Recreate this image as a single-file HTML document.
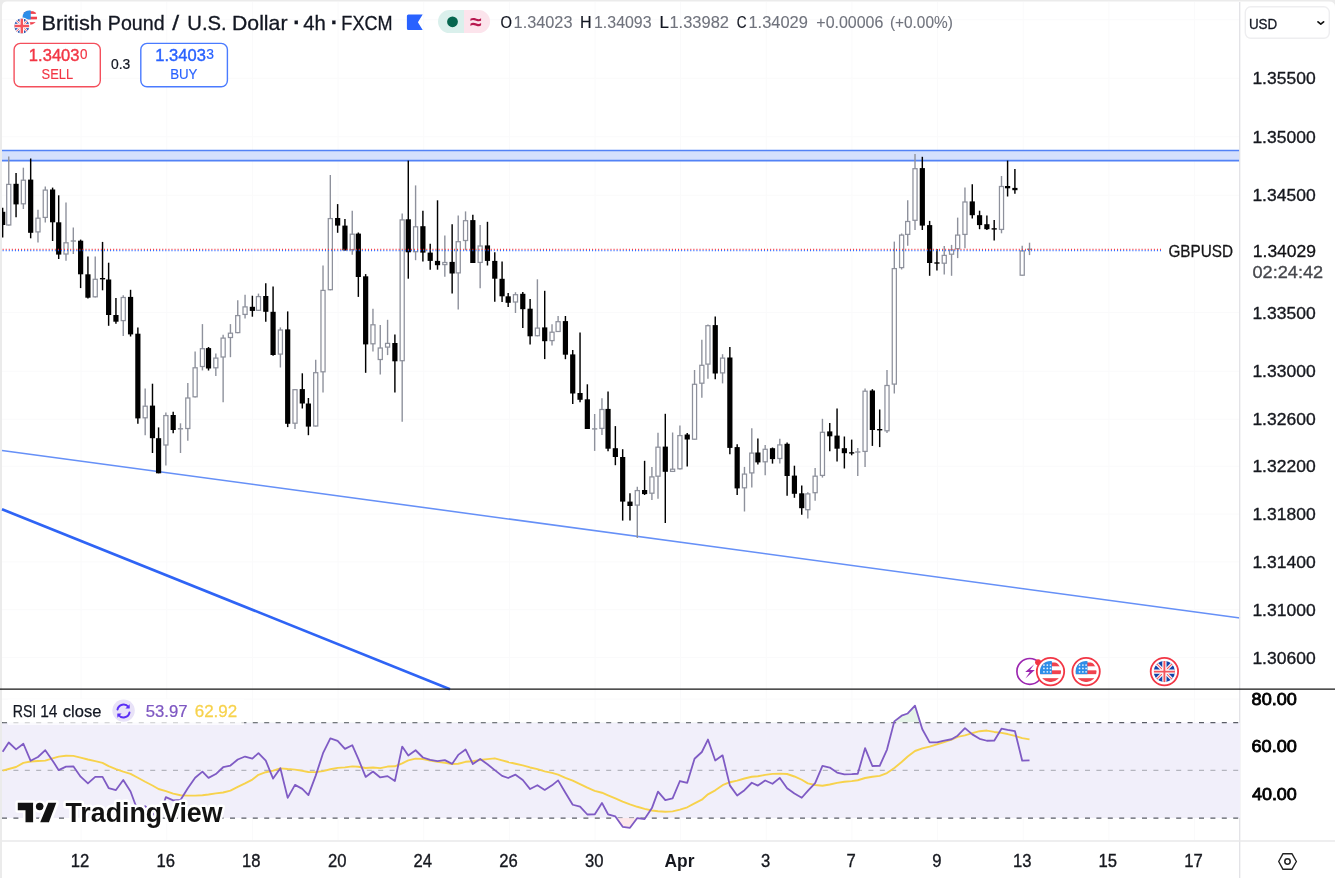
<!DOCTYPE html>
<html lang="en"><head><meta charset="utf-8"><title>GBPUSD chart</title>
<style>
html,body{margin:0;padding:0;background:#ebebeb;}
body{width:1335px;height:878px;overflow:hidden;position:relative;font-family:"Liberation Sans", sans-serif;}
#chart{position:absolute;left:0;top:0;width:1335px;height:878px;display:block;}
svg text{font-family:"Liberation Sans", sans-serif;}
.ax{font-size:17px;fill:#131722;}
.tm{font-size:17px;fill:#131722;text-anchor:middle;}
.rs{font-size:17px;fill:#000;stroke:#000;stroke-width:0.35px;}
</style></head><body>
<svg id="chart" width="1335" height="878" viewBox="0 0 1335 878">
<path d="M2 878V6.5Q2 1.5 7 1.5H1329Q1335 1.5 1335 7V878Z" fill="#ffffff"/>
<g stroke="#fafafb" stroke-width="1" fill="none">
<line x1="81.1" y1="2" x2="81.1" y2="840"/>
<line x1="166.75" y1="2" x2="166.75" y2="840"/>
<line x1="252.4" y1="2" x2="252.4" y2="840"/>
<line x1="338.05" y1="2" x2="338.05" y2="840"/>
<line x1="423.7" y1="2" x2="423.7" y2="840"/>
<line x1="509.35" y1="2" x2="509.35" y2="840"/>
<line x1="595" y1="2" x2="595" y2="840"/>
<line x1="680.65" y1="2" x2="680.65" y2="840"/>
<line x1="766.3" y1="2" x2="766.3" y2="840"/>
<line x1="851.95" y1="2" x2="851.95" y2="840"/>
<line x1="937.6" y1="2" x2="937.6" y2="840"/>
<line x1="1023.25" y1="2" x2="1023.25" y2="840"/>
<line x1="1108.9" y1="2" x2="1108.9" y2="840"/>
<line x1="1194.55" y1="2" x2="1194.55" y2="840"/>
<line x1="2" y1="19.8" x2="1240" y2="19.8"/>
<line x1="2" y1="78.3" x2="1240" y2="78.3"/>
<line x1="2" y1="136.8" x2="1240" y2="136.8"/>
<line x1="2" y1="195.3" x2="1240" y2="195.3"/>
<line x1="2" y1="312.5" x2="1240" y2="312.5"/>
<line x1="2" y1="371.2" x2="1240" y2="371.2"/>
<line x1="2" y1="419.2" x2="1240" y2="419.2"/>
<line x1="2" y1="466.2" x2="1240" y2="466.2"/>
<line x1="2" y1="514" x2="1240" y2="514"/>
<line x1="2" y1="561.9" x2="1240" y2="561.9"/>
<line x1="2" y1="609.7" x2="1240" y2="609.7"/>
<line x1="2" y1="657.6" x2="1240" y2="657.6"/>
<line x1="2" y1="699" x2="1240" y2="699"/>
<line x1="2" y1="746.5" x2="1240" y2="746.5"/>
<line x1="2" y1="794" x2="1240" y2="794"/>
</g>
<rect x="2" y="150.4" width="1238" height="10.2" fill="#d4e0fd"/>
<line x1="2" y1="150.4" x2="1240" y2="150.4" stroke="#5282f6" stroke-width="1.55"/>
<line x1="2" y1="160.6" x2="1240" y2="160.6" stroke="#5282f6" stroke-width="1.55"/>
<line x1="2" y1="450.4" x2="1240" y2="618" stroke="#6690f7" stroke-width="1.55"/>
<line x1="2" y1="509.2" x2="450" y2="689.2" stroke="#2f64f5" stroke-width="2.6"/>
<clipPath id="pl"><rect x="2" y="2" width="1238" height="687"/></clipPath>
<g id="candles" clip-path="url(#pl)">
<line x1="2.66" y1="207.7" x2="2.66" y2="237.5" stroke="#000" stroke-width="1.45"/>
<rect x="0.06" y="211.8" width="5.2" height="13.2" fill="#000"/>
<line x1="8.75" y1="156.5" x2="8.75" y2="225.6" stroke="#8e919c" stroke-width="1.4"/>
<rect x="6.7" y="184.4" width="4.1" height="40.6" fill="#fff" stroke="#8e919c" stroke-width="1.25"/>
<line x1="16.06" y1="173" x2="16.06" y2="217.3" stroke="#000" stroke-width="1.45"/>
<rect x="13.46" y="183.8" width="5.2" height="20.6" fill="#000"/>
<line x1="23.37" y1="167.7" x2="23.37" y2="209" stroke="#8e919c" stroke-width="1.4"/>
<rect x="21.32" y="180.2" width="4.1" height="23.6" fill="#fff" stroke="#8e919c" stroke-width="1.25"/>
<line x1="30.67" y1="158.5" x2="30.67" y2="238.3" stroke="#000" stroke-width="1.45"/>
<rect x="28.07" y="179.6" width="5.2" height="53.2" fill="#000"/>
<line x1="37.98" y1="209.7" x2="37.98" y2="242.4" stroke="#8e919c" stroke-width="1.4"/>
<rect x="35.93" y="218.2" width="4.1" height="13.7" fill="#fff" stroke="#8e919c" stroke-width="1.25"/>
<line x1="45.29" y1="186.6" x2="45.29" y2="222.6" stroke="#8e919c" stroke-width="1.4"/>
<rect x="43.24" y="190.1" width="4.1" height="27.3" fill="#fff" stroke="#8e919c" stroke-width="1.25"/>
<line x1="52.6" y1="187.6" x2="52.6" y2="241" stroke="#000" stroke-width="1.45"/>
<rect x="50" y="189.5" width="5.2" height="32.8" fill="#000"/>
<line x1="58.69" y1="195.3" x2="58.69" y2="259" stroke="#000" stroke-width="1.45"/>
<rect x="56.09" y="222.3" width="5.2" height="32.3" fill="#000"/>
<line x1="66" y1="202.4" x2="66" y2="260.8" stroke="#8e919c" stroke-width="1.4"/>
<rect x="63.95" y="242.8" width="4.1" height="11.2" fill="#fff" stroke="#8e919c" stroke-width="1.25"/>
<line x1="73.31" y1="227.5" x2="73.31" y2="254" stroke="#8e919c" stroke-width="1.4"/>
<line x1="70.71" y1="241" x2="75.91" y2="241" stroke="#8e919c" stroke-width="1.4"/>
<line x1="80.62" y1="239.6" x2="80.62" y2="288.1" stroke="#000" stroke-width="1.45"/>
<rect x="78.02" y="240.7" width="5.2" height="33.6" fill="#000"/>
<line x1="87.93" y1="256.4" x2="87.93" y2="298.5" stroke="#000" stroke-width="1.45"/>
<rect x="85.33" y="274.3" width="5.2" height="23.4" fill="#000"/>
<line x1="95.23" y1="256.4" x2="95.23" y2="297.4" stroke="#8e919c" stroke-width="1.4"/>
<rect x="93.18" y="279.3" width="4.1" height="17.5" fill="#fff" stroke="#8e919c" stroke-width="1.25"/>
<line x1="102.54" y1="241.9" x2="102.54" y2="290.3" stroke="#000" stroke-width="1.45"/>
<rect x="99.94" y="278" width="5.2" height="1.4" fill="#000"/>
<line x1="108.63" y1="262.7" x2="108.63" y2="325.8" stroke="#000" stroke-width="1.45"/>
<rect x="106.03" y="279.5" width="5.2" height="35.5" fill="#000"/>
<line x1="115.94" y1="298" x2="115.94" y2="323.8" stroke="#000" stroke-width="1.45"/>
<rect x="113.34" y="315" width="5.2" height="6.7" fill="#000"/>
<line x1="123.25" y1="295.2" x2="123.25" y2="336" stroke="#8e919c" stroke-width="1.4"/>
<rect x="121.2" y="297.5" width="4.1" height="23.1" fill="#fff" stroke="#8e919c" stroke-width="1.25"/>
<line x1="130.56" y1="289.8" x2="130.56" y2="336.5" stroke="#000" stroke-width="1.45"/>
<rect x="127.96" y="296.9" width="5.2" height="37.5" fill="#000"/>
<line x1="137.87" y1="327.4" x2="137.87" y2="423.8" stroke="#000" stroke-width="1.45"/>
<rect x="135.27" y="333.7" width="5.2" height="84.7" fill="#000"/>
<line x1="145.18" y1="388.6" x2="145.18" y2="435.2" stroke="#8e919c" stroke-width="1.4"/>
<rect x="143.13" y="406.2" width="4.1" height="11.6" fill="#fff" stroke="#8e919c" stroke-width="1.25"/>
<line x1="152.48" y1="383.7" x2="152.48" y2="453" stroke="#000" stroke-width="1.45"/>
<rect x="149.88" y="405.6" width="5.2" height="32.6" fill="#000"/>
<line x1="158.57" y1="427.4" x2="158.57" y2="473.3" stroke="#000" stroke-width="1.45"/>
<rect x="155.97" y="438.2" width="5.2" height="35.1" fill="#000"/>
<line x1="165.88" y1="412.6" x2="165.88" y2="465.4" stroke="#8e919c" stroke-width="1.4"/>
<rect x="163.83" y="415.6" width="4.1" height="29.4" fill="#fff" stroke="#8e919c" stroke-width="1.25"/>
<line x1="173.19" y1="411.8" x2="173.19" y2="433.2" stroke="#000" stroke-width="1.45"/>
<rect x="170.59" y="415" width="5.2" height="15" fill="#000"/>
<line x1="180.5" y1="423.3" x2="180.5" y2="453" stroke="#8e919c" stroke-width="1.4"/>
<line x1="177.9" y1="428.8" x2="183.1" y2="428.8" stroke="#8e919c" stroke-width="1.4"/>
<line x1="187.81" y1="382.9" x2="187.81" y2="440.7" stroke="#8e919c" stroke-width="1.4"/>
<rect x="185.76" y="398" width="4.1" height="30.5" fill="#fff" stroke="#8e919c" stroke-width="1.25"/>
<line x1="195.12" y1="351.5" x2="195.12" y2="397.4" stroke="#8e919c" stroke-width="1.4"/>
<rect x="193.07" y="367.8" width="4.1" height="29" fill="#fff" stroke="#8e919c" stroke-width="1.25"/>
<line x1="202.43" y1="324.1" x2="202.43" y2="370.4" stroke="#8e919c" stroke-width="1.4"/>
<rect x="200.38" y="348.7" width="4.1" height="17.8" fill="#fff" stroke="#8e919c" stroke-width="1.25"/>
<line x1="208.52" y1="347" x2="208.52" y2="370.5" stroke="#000" stroke-width="1.45"/>
<rect x="205.92" y="348.1" width="5.2" height="20.4" fill="#000"/>
<line x1="215.83" y1="353.5" x2="215.83" y2="375.9" stroke="#8e919c" stroke-width="1.4"/>
<rect x="213.78" y="358.1" width="4.1" height="9.7" fill="#fff" stroke="#8e919c" stroke-width="1.25"/>
<line x1="223.13" y1="334.8" x2="223.13" y2="402.2" stroke="#8e919c" stroke-width="1.4"/>
<rect x="221.08" y="338.1" width="4.1" height="18.9" fill="#fff" stroke="#8e919c" stroke-width="1.25"/>
<line x1="230.44" y1="324.1" x2="230.44" y2="357.2" stroke="#8e919c" stroke-width="1.4"/>
<rect x="228.39" y="333.2" width="4.1" height="4.3" fill="#fff" stroke="#8e919c" stroke-width="1.25"/>
<line x1="237.75" y1="300.2" x2="237.75" y2="333.2" stroke="#8e919c" stroke-width="1.4"/>
<rect x="235.7" y="315.6" width="4.1" height="17" fill="#fff" stroke="#8e919c" stroke-width="1.25"/>
<line x1="245.06" y1="294.7" x2="245.06" y2="318.4" stroke="#8e919c" stroke-width="1.4"/>
<rect x="243.01" y="306.9" width="4.1" height="7.5" fill="#fff" stroke="#8e919c" stroke-width="1.25"/>
<line x1="252.37" y1="295.7" x2="252.37" y2="316.7" stroke="#000" stroke-width="1.45"/>
<rect x="249.77" y="306.8" width="5.2" height="4.1" fill="#000"/>
<line x1="258.46" y1="293.6" x2="258.46" y2="310.9" stroke="#8e919c" stroke-width="1.4"/>
<rect x="256.41" y="296.6" width="4.1" height="13.7" fill="#fff" stroke="#8e919c" stroke-width="1.25"/>
<line x1="265.77" y1="283.2" x2="265.77" y2="321.7" stroke="#000" stroke-width="1.45"/>
<rect x="263.17" y="296" width="5.2" height="15.8" fill="#000"/>
<line x1="273.08" y1="286.5" x2="273.08" y2="355.8" stroke="#000" stroke-width="1.45"/>
<rect x="270.48" y="311.8" width="5.2" height="43.2" fill="#000"/>
<line x1="280.38" y1="327.4" x2="280.38" y2="367.5" stroke="#8e919c" stroke-width="1.4"/>
<rect x="278.33" y="330" width="4.1" height="24.1" fill="#fff" stroke="#8e919c" stroke-width="1.25"/>
<line x1="287.69" y1="311.4" x2="287.69" y2="427.1" stroke="#000" stroke-width="1.45"/>
<rect x="285.09" y="329.4" width="5.2" height="94.4" fill="#000"/>
<line x1="295" y1="389.1" x2="295" y2="429.1" stroke="#8e919c" stroke-width="1.4"/>
<rect x="292.95" y="389.7" width="4.1" height="33.5" fill="#fff" stroke="#8e919c" stroke-width="1.25"/>
<line x1="302.31" y1="373.3" x2="302.31" y2="408.5" stroke="#000" stroke-width="1.45"/>
<rect x="299.71" y="389.1" width="5.2" height="14.4" fill="#000"/>
<line x1="308.4" y1="398" x2="308.4" y2="435.2" stroke="#000" stroke-width="1.45"/>
<rect x="305.8" y="403.5" width="5.2" height="23.1" fill="#000"/>
<line x1="315.71" y1="359.7" x2="315.71" y2="426.6" stroke="#8e919c" stroke-width="1.4"/>
<rect x="313.66" y="372.7" width="4.1" height="53.3" fill="#fff" stroke="#8e919c" stroke-width="1.25"/>
<line x1="323.02" y1="265.5" x2="323.02" y2="392.4" stroke="#8e919c" stroke-width="1.4"/>
<rect x="320.97" y="290.4" width="4.1" height="81.4" fill="#fff" stroke="#8e919c" stroke-width="1.25"/>
<line x1="330.33" y1="175" x2="330.33" y2="290.3" stroke="#8e919c" stroke-width="1.4"/>
<rect x="328.28" y="218.6" width="4.1" height="71.1" fill="#fff" stroke="#8e919c" stroke-width="1.25"/>
<line x1="337.64" y1="204.1" x2="337.64" y2="232.8" stroke="#000" stroke-width="1.45"/>
<rect x="335.04" y="218" width="5.2" height="7.6" fill="#000"/>
<line x1="344.94" y1="219" x2="344.94" y2="250.4" stroke="#000" stroke-width="1.45"/>
<rect x="342.34" y="225.6" width="5.2" height="24.8" fill="#000"/>
<line x1="352.25" y1="210.7" x2="352.25" y2="254.8" stroke="#8e919c" stroke-width="1.4"/>
<rect x="350.2" y="234.2" width="4.1" height="15.5" fill="#fff" stroke="#8e919c" stroke-width="1.25"/>
<line x1="358.34" y1="232.5" x2="358.34" y2="296.9" stroke="#000" stroke-width="1.45"/>
<rect x="355.74" y="233.6" width="5.2" height="43.4" fill="#000"/>
<line x1="365.65" y1="274.1" x2="365.65" y2="372.8" stroke="#000" stroke-width="1.45"/>
<rect x="363.05" y="276.3" width="5.2" height="68.1" fill="#000"/>
<line x1="372.96" y1="308.7" x2="372.96" y2="351.5" stroke="#8e919c" stroke-width="1.4"/>
<rect x="370.91" y="324.8" width="4.1" height="19" fill="#fff" stroke="#8e919c" stroke-width="1.25"/>
<line x1="380.27" y1="325" x2="380.27" y2="374.5" stroke="#8e919c" stroke-width="1.4"/>
<rect x="378.22" y="348" width="4.1" height="11.5" fill="#fff" stroke="#8e919c" stroke-width="1.25"/>
<line x1="387.58" y1="319.8" x2="387.58" y2="355.1" stroke="#8e919c" stroke-width="1.4"/>
<rect x="385.53" y="343.4" width="4.1" height="3.7" fill="#fff" stroke="#8e919c" stroke-width="1.25"/>
<line x1="394.89" y1="334.5" x2="394.89" y2="392.6" stroke="#000" stroke-width="1.45"/>
<rect x="392.29" y="343" width="5.2" height="18.3" fill="#000"/>
<line x1="402.19" y1="213.5" x2="402.19" y2="421.7" stroke="#8e919c" stroke-width="1.4"/>
<rect x="400.14" y="219.9" width="4.1" height="140.8" fill="#fff" stroke="#8e919c" stroke-width="1.25"/>
<line x1="408.29" y1="160.6" x2="408.29" y2="278.7" stroke="#000" stroke-width="1.45"/>
<rect x="405.69" y="219.3" width="5.2" height="33" fill="#000"/>
<line x1="415.59" y1="185.4" x2="415.59" y2="260.2" stroke="#8e919c" stroke-width="1.4"/>
<rect x="413.54" y="226.8" width="4.1" height="24.9" fill="#fff" stroke="#8e919c" stroke-width="1.25"/>
<line x1="422.9" y1="210.7" x2="422.9" y2="261.4" stroke="#000" stroke-width="1.45"/>
<rect x="420.3" y="226.2" width="5.2" height="26.4" fill="#000"/>
<line x1="430.21" y1="243.7" x2="430.21" y2="269.7" stroke="#000" stroke-width="1.45"/>
<rect x="427.61" y="252.6" width="5.2" height="8.3" fill="#000"/>
<line x1="437.52" y1="200.3" x2="437.52" y2="269.7" stroke="#000" stroke-width="1.45"/>
<rect x="434.92" y="260.9" width="5.2" height="4.3" fill="#000"/>
<line x1="444.83" y1="235.5" x2="444.83" y2="276.8" stroke="#8e919c" stroke-width="1.4"/>
<rect x="442.78" y="262.5" width="4.1" height="2.1" fill="#fff" stroke="#8e919c" stroke-width="1.25"/>
<line x1="452.14" y1="224.2" x2="452.14" y2="293.5" stroke="#000" stroke-width="1.45"/>
<rect x="449.54" y="261.9" width="5.2" height="11.6" fill="#000"/>
<line x1="458.23" y1="215.6" x2="458.23" y2="309.4" stroke="#8e919c" stroke-width="1.4"/>
<rect x="456.18" y="241.7" width="4.1" height="31.2" fill="#fff" stroke="#8e919c" stroke-width="1.25"/>
<line x1="465.54" y1="211.4" x2="465.54" y2="250.3" stroke="#8e919c" stroke-width="1.4"/>
<rect x="463.49" y="220.7" width="4.1" height="19.8" fill="#fff" stroke="#8e919c" stroke-width="1.25"/>
<line x1="472.84" y1="214.7" x2="472.84" y2="263" stroke="#000" stroke-width="1.45"/>
<rect x="470.24" y="220.1" width="5.2" height="42.9" fill="#000"/>
<line x1="480.15" y1="225.1" x2="480.15" y2="288.3" stroke="#8e919c" stroke-width="1.4"/>
<rect x="478.1" y="246" width="4.1" height="16.4" fill="#fff" stroke="#8e919c" stroke-width="1.25"/>
<line x1="487.46" y1="221.8" x2="487.46" y2="265.5" stroke="#000" stroke-width="1.45"/>
<rect x="484.86" y="245.4" width="5.2" height="15.5" fill="#000"/>
<line x1="494.77" y1="252.3" x2="494.77" y2="301.8" stroke="#000" stroke-width="1.45"/>
<rect x="492.17" y="260.9" width="5.2" height="17.8" fill="#000"/>
<line x1="502.08" y1="261.5" x2="502.08" y2="302" stroke="#000" stroke-width="1.45"/>
<rect x="499.48" y="278.8" width="5.2" height="17.5" fill="#000"/>
<line x1="508.17" y1="293" x2="508.17" y2="306.9" stroke="#000" stroke-width="1.45"/>
<rect x="505.57" y="296.3" width="5.2" height="6.5" fill="#000"/>
<line x1="515.48" y1="292.2" x2="515.48" y2="313" stroke="#8e919c" stroke-width="1.4"/>
<rect x="513.43" y="294.7" width="4.1" height="7.3" fill="#fff" stroke="#8e919c" stroke-width="1.25"/>
<line x1="522.79" y1="292" x2="522.79" y2="327.9" stroke="#000" stroke-width="1.45"/>
<rect x="520.19" y="293.8" width="5.2" height="15.4" fill="#000"/>
<line x1="530.1" y1="299" x2="530.1" y2="344.4" stroke="#000" stroke-width="1.45"/>
<rect x="527.5" y="308.7" width="5.2" height="27.6" fill="#000"/>
<line x1="537.4" y1="279.3" x2="537.4" y2="336.3" stroke="#8e919c" stroke-width="1.4"/>
<rect x="535.35" y="328.1" width="4.1" height="7.6" fill="#fff" stroke="#8e919c" stroke-width="1.25"/>
<line x1="544.71" y1="290.8" x2="544.71" y2="359.1" stroke="#000" stroke-width="1.45"/>
<rect x="542.11" y="327.4" width="5.2" height="13.8" fill="#000"/>
<line x1="552.02" y1="324.2" x2="552.02" y2="345.5" stroke="#8e919c" stroke-width="1.4"/>
<rect x="549.97" y="332.2" width="4.1" height="8.4" fill="#fff" stroke="#8e919c" stroke-width="1.25"/>
<line x1="558.11" y1="316" x2="558.11" y2="332.1" stroke="#8e919c" stroke-width="1.4"/>
<rect x="556.06" y="321.7" width="4.1" height="9.8" fill="#fff" stroke="#8e919c" stroke-width="1.25"/>
<line x1="565.42" y1="316" x2="565.42" y2="359.2" stroke="#000" stroke-width="1.45"/>
<rect x="562.82" y="321.1" width="5.2" height="33.6" fill="#000"/>
<line x1="572.73" y1="350.1" x2="572.73" y2="404" stroke="#000" stroke-width="1.45"/>
<rect x="570.13" y="354.4" width="5.2" height="39.1" fill="#000"/>
<line x1="580.04" y1="332.5" x2="580.04" y2="402.2" stroke="#000" stroke-width="1.45"/>
<rect x="577.44" y="393" width="5.2" height="6.8" fill="#000"/>
<line x1="587.35" y1="384.3" x2="587.35" y2="429" stroke="#000" stroke-width="1.45"/>
<rect x="584.75" y="399.3" width="5.2" height="29.7" fill="#000"/>
<line x1="594.65" y1="414" x2="594.65" y2="450.9" stroke="#8e919c" stroke-width="1.4"/>
<line x1="592.05" y1="428.9" x2="597.25" y2="428.9" stroke="#8e919c" stroke-width="1.4"/>
<line x1="601.96" y1="398.2" x2="601.96" y2="435" stroke="#8e919c" stroke-width="1.4"/>
<rect x="599.91" y="409.5" width="4.1" height="18.9" fill="#fff" stroke="#8e919c" stroke-width="1.25"/>
<line x1="608.05" y1="391.6" x2="608.05" y2="451.2" stroke="#000" stroke-width="1.45"/>
<rect x="605.45" y="408.9" width="5.2" height="39.8" fill="#000"/>
<line x1="615.36" y1="426.1" x2="615.36" y2="465.2" stroke="#000" stroke-width="1.45"/>
<rect x="612.76" y="448.2" width="5.2" height="8.8" fill="#000"/>
<line x1="622.67" y1="449.2" x2="622.67" y2="520.6" stroke="#000" stroke-width="1.45"/>
<rect x="620.07" y="457" width="5.2" height="44.6" fill="#000"/>
<line x1="629.98" y1="493.3" x2="629.98" y2="520.6" stroke="#000" stroke-width="1.45"/>
<rect x="627.38" y="501.6" width="5.2" height="4.4" fill="#000"/>
<line x1="637.29" y1="486.7" x2="637.29" y2="537.9" stroke="#8e919c" stroke-width="1.4"/>
<rect x="635.24" y="490.6" width="4.1" height="14.5" fill="#fff" stroke="#8e919c" stroke-width="1.25"/>
<line x1="644.6" y1="460.8" x2="644.6" y2="495" stroke="#000" stroke-width="1.45"/>
<rect x="642" y="490" width="5.2" height="4.1" fill="#000"/>
<line x1="651.91" y1="466.9" x2="651.91" y2="499.9" stroke="#8e919c" stroke-width="1.4"/>
<rect x="649.86" y="476.9" width="4.1" height="16.3" fill="#fff" stroke="#8e919c" stroke-width="1.25"/>
<line x1="658" y1="432.7" x2="658" y2="498.8" stroke="#8e919c" stroke-width="1.4"/>
<rect x="655.95" y="447.2" width="4.1" height="29" fill="#fff" stroke="#8e919c" stroke-width="1.25"/>
<line x1="665.3" y1="413.8" x2="665.3" y2="523" stroke="#000" stroke-width="1.45"/>
<rect x="662.7" y="446.6" width="5.2" height="25.2" fill="#000"/>
<line x1="672.61" y1="432.5" x2="672.61" y2="472" stroke="#8e919c" stroke-width="1.4"/>
<rect x="670.56" y="469.2" width="4.1" height="2.2" fill="#fff" stroke="#8e919c" stroke-width="1.25"/>
<line x1="679.92" y1="425.5" x2="679.92" y2="469.4" stroke="#8e919c" stroke-width="1.4"/>
<rect x="677.87" y="435.6" width="4.1" height="33.2" fill="#fff" stroke="#8e919c" stroke-width="1.25"/>
<line x1="687.23" y1="433" x2="687.23" y2="466.4" stroke="#000" stroke-width="1.45"/>
<rect x="684.63" y="434.5" width="5.2" height="5" fill="#000"/>
<line x1="694.54" y1="370" x2="694.54" y2="439.8" stroke="#8e919c" stroke-width="1.4"/>
<rect x="692.49" y="384.3" width="4.1" height="54.9" fill="#fff" stroke="#8e919c" stroke-width="1.25"/>
<line x1="701.85" y1="339.7" x2="701.85" y2="397.8" stroke="#8e919c" stroke-width="1.4"/>
<rect x="699.8" y="365.3" width="4.1" height="17.9" fill="#fff" stroke="#8e919c" stroke-width="1.25"/>
<line x1="707.94" y1="324.5" x2="707.94" y2="378.8" stroke="#8e919c" stroke-width="1.4"/>
<rect x="705.89" y="325.7" width="4.1" height="38.4" fill="#fff" stroke="#8e919c" stroke-width="1.25"/>
<line x1="715.25" y1="316.6" x2="715.25" y2="379.2" stroke="#000" stroke-width="1.45"/>
<rect x="712.65" y="325.1" width="5.2" height="48.4" fill="#000"/>
<line x1="722.56" y1="354.2" x2="722.56" y2="383.4" stroke="#8e919c" stroke-width="1.4"/>
<rect x="720.51" y="358.1" width="4.1" height="14.8" fill="#fff" stroke="#8e919c" stroke-width="1.25"/>
<line x1="729.86" y1="347.1" x2="729.86" y2="454.2" stroke="#000" stroke-width="1.45"/>
<rect x="727.26" y="357.5" width="5.2" height="90.4" fill="#000"/>
<line x1="737.17" y1="444.3" x2="737.17" y2="495" stroke="#000" stroke-width="1.45"/>
<rect x="734.57" y="447.1" width="5.2" height="41.3" fill="#000"/>
<line x1="744.48" y1="466.9" x2="744.48" y2="511.5" stroke="#8e919c" stroke-width="1.4"/>
<rect x="742.43" y="474.1" width="4.1" height="13.7" fill="#fff" stroke="#8e919c" stroke-width="1.25"/>
<line x1="751.79" y1="428.2" x2="751.79" y2="487.5" stroke="#8e919c" stroke-width="1.4"/>
<rect x="749.74" y="453.1" width="4.1" height="19.8" fill="#fff" stroke="#8e919c" stroke-width="1.25"/>
<line x1="757.88" y1="438.6" x2="757.88" y2="464.4" stroke="#000" stroke-width="1.45"/>
<rect x="755.28" y="452.5" width="5.2" height="9.9" fill="#000"/>
<line x1="765.19" y1="444.9" x2="765.19" y2="475.2" stroke="#8e919c" stroke-width="1.4"/>
<rect x="763.14" y="449.3" width="4.1" height="12.5" fill="#fff" stroke="#8e919c" stroke-width="1.25"/>
<line x1="772.5" y1="447.5" x2="772.5" y2="463.6" stroke="#000" stroke-width="1.45"/>
<rect x="769.9" y="448.2" width="5.2" height="10.9" fill="#000"/>
<line x1="779.81" y1="438.8" x2="779.81" y2="463.6" stroke="#8e919c" stroke-width="1.4"/>
<rect x="777.76" y="444.9" width="4.1" height="13.6" fill="#fff" stroke="#8e919c" stroke-width="1.25"/>
<line x1="787.11" y1="442.5" x2="787.11" y2="495.8" stroke="#000" stroke-width="1.45"/>
<rect x="784.51" y="443.8" width="5.2" height="32.2" fill="#000"/>
<line x1="794.42" y1="465.7" x2="794.42" y2="497.8" stroke="#000" stroke-width="1.45"/>
<rect x="791.82" y="475.6" width="5.2" height="18.2" fill="#000"/>
<line x1="801.73" y1="485.6" x2="801.73" y2="514.8" stroke="#000" stroke-width="1.45"/>
<rect x="799.13" y="493.3" width="5.2" height="14.9" fill="#000"/>
<line x1="807.82" y1="492.2" x2="807.82" y2="518.6" stroke="#8e919c" stroke-width="1.4"/>
<rect x="805.77" y="493.9" width="4.1" height="15.8" fill="#fff" stroke="#8e919c" stroke-width="1.25"/>
<line x1="815.13" y1="468" x2="815.13" y2="500.8" stroke="#8e919c" stroke-width="1.4"/>
<rect x="813.08" y="476.2" width="4.1" height="16.5" fill="#fff" stroke="#8e919c" stroke-width="1.25"/>
<line x1="822.44" y1="418.8" x2="822.44" y2="477.6" stroke="#8e919c" stroke-width="1.4"/>
<rect x="820.39" y="432.3" width="4.1" height="43.1" fill="#fff" stroke="#8e919c" stroke-width="1.25"/>
<line x1="829.75" y1="423.1" x2="829.75" y2="451.2" stroke="#000" stroke-width="1.45"/>
<rect x="827.15" y="431.4" width="5.2" height="4.9" fill="#000"/>
<line x1="837.06" y1="408.4" x2="837.06" y2="461.4" stroke="#000" stroke-width="1.45"/>
<rect x="834.46" y="435.6" width="5.2" height="13.1" fill="#000"/>
<line x1="844.37" y1="436.5" x2="844.37" y2="468.5" stroke="#000" stroke-width="1.45"/>
<rect x="841.77" y="448.2" width="5.2" height="5" fill="#000"/>
<line x1="851.67" y1="439.6" x2="851.67" y2="455.3" stroke="#000" stroke-width="1.45"/>
<rect x="849.07" y="452.2" width="5.2" height="1.4" fill="#000"/>
<line x1="857.76" y1="447.9" x2="857.76" y2="476" stroke="#8e919c" stroke-width="1.4"/>
<line x1="855.16" y1="452" x2="860.36" y2="452" stroke="#8e919c" stroke-width="1.4"/>
<line x1="865.07" y1="388.4" x2="865.07" y2="466.9" stroke="#8e919c" stroke-width="1.4"/>
<rect x="863.02" y="391.2" width="4.1" height="60.2" fill="#fff" stroke="#8e919c" stroke-width="1.25"/>
<line x1="872.38" y1="389.2" x2="872.38" y2="445.9" stroke="#000" stroke-width="1.45"/>
<rect x="869.78" y="390.5" width="5.2" height="39.5" fill="#000"/>
<line x1="879.69" y1="409.5" x2="879.69" y2="447.1" stroke="#000" stroke-width="1.45"/>
<rect x="877.09" y="429" width="5.2" height="1.4" fill="#000"/>
<line x1="887" y1="370" x2="887" y2="433" stroke="#8e919c" stroke-width="1.4"/>
<rect x="884.95" y="385.5" width="4.1" height="45.3" fill="#fff" stroke="#8e919c" stroke-width="1.25"/>
<line x1="894.31" y1="241.6" x2="894.31" y2="393.5" stroke="#8e919c" stroke-width="1.4"/>
<rect x="892.26" y="268.6" width="4.1" height="115.5" fill="#fff" stroke="#8e919c" stroke-width="1.25"/>
<line x1="901.62" y1="233.5" x2="901.62" y2="269.5" stroke="#8e919c" stroke-width="1.4"/>
<rect x="899.57" y="235.1" width="4.1" height="32.5" fill="#fff" stroke="#8e919c" stroke-width="1.25"/>
<line x1="907.71" y1="200.3" x2="907.71" y2="245.7" stroke="#8e919c" stroke-width="1.4"/>
<rect x="905.66" y="221.5" width="4.1" height="12.9" fill="#fff" stroke="#8e919c" stroke-width="1.25"/>
<line x1="915.01" y1="154" x2="915.01" y2="230" stroke="#8e919c" stroke-width="1.4"/>
<rect x="912.97" y="168.7" width="4.1" height="51.6" fill="#fff" stroke="#8e919c" stroke-width="1.25"/>
<line x1="922.32" y1="156.8" x2="922.32" y2="230" stroke="#000" stroke-width="1.45"/>
<rect x="919.72" y="168.1" width="5.2" height="57.5" fill="#000"/>
<line x1="929.63" y1="220.9" x2="929.63" y2="275.8" stroke="#000" stroke-width="1.45"/>
<rect x="927.03" y="225.1" width="5.2" height="37.9" fill="#000"/>
<line x1="936.94" y1="249" x2="936.94" y2="270.5" stroke="#000" stroke-width="1.45"/>
<rect x="934.34" y="262.3" width="5.2" height="1.4" fill="#000"/>
<line x1="944.25" y1="246" x2="944.25" y2="274.6" stroke="#8e919c" stroke-width="1.4"/>
<rect x="942.2" y="255.4" width="4.1" height="7.8" fill="#fff" stroke="#8e919c" stroke-width="1.25"/>
<line x1="951.56" y1="244.9" x2="951.56" y2="275.8" stroke="#8e919c" stroke-width="1.4"/>
<rect x="949.51" y="249.9" width="4.1" height="4.3" fill="#fff" stroke="#8e919c" stroke-width="1.25"/>
<line x1="957.65" y1="217.6" x2="957.65" y2="258.1" stroke="#8e919c" stroke-width="1.4"/>
<rect x="955.6" y="235.1" width="4.1" height="13.6" fill="#fff" stroke="#8e919c" stroke-width="1.25"/>
<line x1="964.96" y1="187.6" x2="964.96" y2="248.2" stroke="#8e919c" stroke-width="1.4"/>
<rect x="962.91" y="202" width="4.1" height="32.4" fill="#fff" stroke="#8e919c" stroke-width="1.25"/>
<line x1="972.27" y1="184.3" x2="972.27" y2="218.5" stroke="#000" stroke-width="1.45"/>
<rect x="969.67" y="201.4" width="5.2" height="13.8" fill="#000"/>
<line x1="979.57" y1="210.7" x2="979.57" y2="229.2" stroke="#000" stroke-width="1.45"/>
<rect x="976.97" y="215.2" width="5.2" height="9.9" fill="#000"/>
<line x1="986.88" y1="215.6" x2="986.88" y2="230" stroke="#000" stroke-width="1.45"/>
<rect x="984.28" y="224.2" width="5.2" height="5" fill="#000"/>
<line x1="994.19" y1="220.1" x2="994.19" y2="240.4" stroke="#000" stroke-width="1.45"/>
<rect x="991.59" y="228.2" width="5.2" height="1.4" fill="#000"/>
<line x1="1001.5" y1="176" x2="1001.5" y2="233.3" stroke="#8e919c" stroke-width="1.4"/>
<rect x="999.45" y="186.5" width="4.1" height="42.9" fill="#fff" stroke="#8e919c" stroke-width="1.25"/>
<line x1="1007.59" y1="160.6" x2="1007.59" y2="196.5" stroke="#000" stroke-width="1.45"/>
<rect x="1004.99" y="186" width="5.2" height="2.3" fill="#000"/>
<line x1="1014.9" y1="168.9" x2="1014.9" y2="193.7" stroke="#000" stroke-width="1.45"/>
<rect x="1012.3" y="187.9" width="5.2" height="2.3" fill="#000"/>
<line x1="1022.21" y1="245.7" x2="1022.21" y2="275.8" stroke="#8e919c" stroke-width="1.4"/>
<rect x="1020.16" y="250.9" width="4.1" height="24.3" fill="#fff" stroke="#8e919c" stroke-width="1.25"/>
<line x1="1029.52" y1="242.7" x2="1029.52" y2="255.1" stroke="#8e919c" stroke-width="1.4"/>
<line x1="1026.92" y1="249.3" x2="1032.12" y2="249.3" stroke="#8e919c" stroke-width="1.4"/>
</g>
<line x1="2.6" y1="249.45" x2="1161" y2="249.45" stroke="#f23645" stroke-opacity="0.95" stroke-width="1.25" stroke-dasharray="1.05 2.02"/>
<line x1="2.6" y1="250.6" x2="1161" y2="250.6" stroke="#2962ff" stroke-opacity="0.95" stroke-width="1.25" stroke-dasharray="1.05 2.02"/>
<line x1="1239.7" y1="2" x2="1239.7" y2="878" stroke="#e2e2e6" stroke-width="1.3"/>
<line x1="2" y1="841" x2="1335" y2="841" stroke="#e8e8ea" stroke-width="1.6"/>
<rect x="2" y="722.7" width="1238" height="95.3" fill="#f1effa"/>
<g stroke-width="1.2" fill="none" stroke-dasharray="5 6.4">
<line x1="2" y1="722.6" x2="1240" y2="722.6" stroke="#5a5d66"/>
<line x1="2" y1="770.3" x2="1240" y2="770.3" stroke="#b4b5be"/>
<line x1="2" y1="818.1" x2="1240" y2="818.1" stroke="#5a5d66"/>
</g>
<clipPath id="ob"><rect x="2" y="690" width="1238" height="32.6"/></clipPath>
<clipPath id="os"><rect x="2" y="818.1" width="1238" height="22"/></clipPath>
<polygon clip-path="url(#ob)" points="2.66,751.68 8.75,742.48 16.06,749.39 23.37,743.75 30.67,760.81 37.98,757 45.29,750.15 52.6,760.64 58.69,770.16 66,766.64 73.31,766.28 80.62,776.67 87.93,783.44 95.23,776.85 102.54,776.85 108.63,788.05 115.94,790.01 123.25,780.06 130.56,791.5 137.87,811.24 145.18,806.12 152.48,812.84 158.57,819.4 165.88,797.08 173.19,800.36 180.5,799.9 187.81,788.15 195.12,777.78 202.43,771.58 208.52,777.87 215.83,774.06 223.13,767.23 230.44,765.56 237.75,759.5 245.06,756.53 252.37,758.58 258.46,753.11 265.77,760.6 273.08,778.55 280.38,768.16 287.69,797.85 295,784.9 302.31,788.87 308.4,795.06 315.71,775.61 323.02,753.18 330.33,738.41 337.64,740.86 344.94,748.89 352.25,745.19 358.34,758.95 365.65,776.91 372.96,771.57 380.27,777.46 387.58,776.12 394.89,781.08 402.19,746.61 408.29,755.51 415.59,750.25 422.9,757.5 430.21,759.78 437.52,761.02 444.83,760.16 452.14,763.89 458.23,754.9 465.54,749.43 472.84,764 480.15,759.04 487.46,764.26 494.77,770.16 502.08,775.87 508.17,777.99 515.48,774.67 522.79,780.02 530.1,789.08 537.4,785.2 544.71,789.9 552.02,785.34 558.11,780.34 565.42,792.76 572.73,804.75 580.04,806.55 587.35,814.49 594.65,814.43 601.96,802.9 608.05,814.29 615.36,816.44 622.67,826.84 629.98,827.78 637.29,818.04 644.6,819.11 651.91,808.12 658,791.6 665.3,800.19 672.61,798.42 679.92,781.01 687.23,782.83 694.54,758.75 701.85,751.99 707.94,739.53 715.25,760.52 722.56,755.33 729.86,785.4 737.17,795.55 744.48,790.18 751.79,782.75 757.88,785.57 765.19,780.48 772.5,783.75 779.81,777.92 787.11,788.2 794.42,793.55 801.73,797.77 807.82,790.92 815.13,783.05 822.44,765.79 829.75,767.59 837.06,772.53 844.37,774.36 851.67,774.22 857.76,773.77 865.07,748.13 872.38,765.99 879.69,765.87 887,749.51 894.31,721.38 901.62,715.69 907.71,713.48 915.01,705.68 922.32,729.23 929.63,742.43 936.94,742.43 944.25,740.56 951.56,739.25 957.65,735.68 964.96,728.16 972.27,734.36 979.57,738.84 986.88,740.75 994.19,740.66 1001.5,728.7 1007.59,729.98 1014.9,731.06 1022.21,760.68 1029.52,760.32 1029.52,722.6 2.66,722.6" fill="#dff0e2" fill-opacity="0.8"/>
<polygon clip-path="url(#os)" points="2.66,751.68 8.75,742.48 16.06,749.39 23.37,743.75 30.67,760.81 37.98,757 45.29,750.15 52.6,760.64 58.69,770.16 66,766.64 73.31,766.28 80.62,776.67 87.93,783.44 95.23,776.85 102.54,776.85 108.63,788.05 115.94,790.01 123.25,780.06 130.56,791.5 137.87,811.24 145.18,806.12 152.48,812.84 158.57,819.4 165.88,797.08 173.19,800.36 180.5,799.9 187.81,788.15 195.12,777.78 202.43,771.58 208.52,777.87 215.83,774.06 223.13,767.23 230.44,765.56 237.75,759.5 245.06,756.53 252.37,758.58 258.46,753.11 265.77,760.6 273.08,778.55 280.38,768.16 287.69,797.85 295,784.9 302.31,788.87 308.4,795.06 315.71,775.61 323.02,753.18 330.33,738.41 337.64,740.86 344.94,748.89 352.25,745.19 358.34,758.95 365.65,776.91 372.96,771.57 380.27,777.46 387.58,776.12 394.89,781.08 402.19,746.61 408.29,755.51 415.59,750.25 422.9,757.5 430.21,759.78 437.52,761.02 444.83,760.16 452.14,763.89 458.23,754.9 465.54,749.43 472.84,764 480.15,759.04 487.46,764.26 494.77,770.16 502.08,775.87 508.17,777.99 515.48,774.67 522.79,780.02 530.1,789.08 537.4,785.2 544.71,789.9 552.02,785.34 558.11,780.34 565.42,792.76 572.73,804.75 580.04,806.55 587.35,814.49 594.65,814.43 601.96,802.9 608.05,814.29 615.36,816.44 622.67,826.84 629.98,827.78 637.29,818.04 644.6,819.11 651.91,808.12 658,791.6 665.3,800.19 672.61,798.42 679.92,781.01 687.23,782.83 694.54,758.75 701.85,751.99 707.94,739.53 715.25,760.52 722.56,755.33 729.86,785.4 737.17,795.55 744.48,790.18 751.79,782.75 757.88,785.57 765.19,780.48 772.5,783.75 779.81,777.92 787.11,788.2 794.42,793.55 801.73,797.77 807.82,790.92 815.13,783.05 822.44,765.79 829.75,767.59 837.06,772.53 844.37,774.36 851.67,774.22 857.76,773.77 865.07,748.13 872.38,765.99 879.69,765.87 887,749.51 894.31,721.38 901.62,715.69 907.71,713.48 915.01,705.68 922.32,729.23 929.63,742.43 936.94,742.43 944.25,740.56 951.56,739.25 957.65,735.68 964.96,728.16 972.27,734.36 979.57,738.84 986.88,740.75 994.19,740.66 1001.5,728.7 1007.59,729.98 1014.9,731.06 1022.21,760.68 1029.52,760.32 1029.52,818.1 2.66,818.1" fill="#fde4e8" fill-opacity="0.9"/>
<polyline points="2.66,770.7 8.75,769 16.06,767 23.37,762.9 30.67,761.5 37.98,761 45.29,760.6 52.6,758.4 58.69,756.6 66,755.8 73.31,755.9 80.62,757.6 87.93,759.5 95.23,761.14 102.54,762.94 108.63,766.19 115.94,769.09 123.25,771.69 130.56,773.88 137.87,777.75 145.18,781.75 152.48,785.48 158.57,789 165.88,791.17 173.19,793.6 180.5,795.26 187.81,795.6 195.12,795.67 202.43,795.29 208.52,794.56 215.83,793.42 223.13,792.51 230.44,790.65 237.75,786.96 245.06,783.42 252.37,779.54 258.46,774.81 265.77,772.2 273.08,770.64 280.38,768.38 287.69,769.07 295,769.58 302.31,770.81 308.4,772.04 315.71,772.15 323.02,771.15 330.33,769.21 337.64,767.88 344.94,767.33 352.25,766.37 358.34,766.79 365.65,767.96 372.96,767.46 380.27,768.12 387.58,766.57 394.89,766.3 402.19,763.28 408.29,760.45 415.59,758.64 422.9,758.95 430.21,760.48 437.52,761.92 444.83,762.72 452.14,764.06 458.23,763.77 465.54,761.81 472.84,761.27 480.15,759.95 487.46,759.1 494.77,758.32 502.08,760.41 508.17,762.02 515.48,763.76 522.79,765.37 530.1,767.46 537.4,769.19 544.71,771.31 552.02,772.85 558.11,774.66 565.42,777.76 572.73,780.67 580.04,784.06 587.35,787.65 594.65,790.81 601.96,792.74 608.05,795.34 615.36,798.32 622.67,801.67 629.98,804.43 637.29,806.78 644.6,808.86 651.91,810.49 658,811.29 665.3,811.82 672.61,811.37 679.92,809.55 687.23,807.29 694.54,803.31 701.85,799.67 707.94,794.33 715.25,790.34 722.56,785.23 729.86,782.2 737.17,780.6 744.48,778.53 751.79,776.72 757.88,776.29 765.19,774.88 772.5,773.83 779.81,773.61 787.11,774 794.42,776.48 801.73,779.75 807.82,783.42 815.13,785.03 822.44,785.78 829.75,784.51 837.06,782.86 844.37,781.73 851.67,781.12 857.76,780.28 865.07,777.97 872.38,776.7 879.69,775.84 887,773.08 894.31,767.92 901.62,762.06 907.71,756.53 915.01,751 922.32,748.39 929.63,746.59 936.94,744.44 944.25,742.03 951.56,739.53 957.65,736.81 964.96,735.38 972.27,733.12 979.57,731.19 986.88,730.57 994.19,731.94 1001.5,732.87 1007.59,734.05 1014.9,735.86 1022.21,738.11 1029.52,739.39" fill="none" stroke="#f7d24c" stroke-width="1.9" stroke-linejoin="round"/>
<polyline points="2.66,751.68 8.75,742.48 16.06,749.39 23.37,743.75 30.67,760.81 37.98,757 45.29,750.15 52.6,760.64 58.69,770.16 66,766.64 73.31,766.28 80.62,776.67 87.93,783.44 95.23,776.85 102.54,776.85 108.63,788.05 115.94,790.01 123.25,780.06 130.56,791.5 137.87,811.24 145.18,806.12 152.48,812.84 158.57,819.4 165.88,797.08 173.19,800.36 180.5,799.9 187.81,788.15 195.12,777.78 202.43,771.58 208.52,777.87 215.83,774.06 223.13,767.23 230.44,765.56 237.75,759.5 245.06,756.53 252.37,758.58 258.46,753.11 265.77,760.6 273.08,778.55 280.38,768.16 287.69,797.85 295,784.9 302.31,788.87 308.4,795.06 315.71,775.61 323.02,753.18 330.33,738.41 337.64,740.86 344.94,748.89 352.25,745.19 358.34,758.95 365.65,776.91 372.96,771.57 380.27,777.46 387.58,776.12 394.89,781.08 402.19,746.61 408.29,755.51 415.59,750.25 422.9,757.5 430.21,759.78 437.52,761.02 444.83,760.16 452.14,763.89 458.23,754.9 465.54,749.43 472.84,764 480.15,759.04 487.46,764.26 494.77,770.16 502.08,775.87 508.17,777.99 515.48,774.67 522.79,780.02 530.1,789.08 537.4,785.2 544.71,789.9 552.02,785.34 558.11,780.34 565.42,792.76 572.73,804.75 580.04,806.55 587.35,814.49 594.65,814.43 601.96,802.9 608.05,814.29 615.36,816.44 622.67,826.84 629.98,827.78 637.29,818.04 644.6,819.11 651.91,808.12 658,791.6 665.3,800.19 672.61,798.42 679.92,781.01 687.23,782.83 694.54,758.75 701.85,751.99 707.94,739.53 715.25,760.52 722.56,755.33 729.86,785.4 737.17,795.55 744.48,790.18 751.79,782.75 757.88,785.57 765.19,780.48 772.5,783.75 779.81,777.92 787.11,788.2 794.42,793.55 801.73,797.77 807.82,790.92 815.13,783.05 822.44,765.79 829.75,767.59 837.06,772.53 844.37,774.36 851.67,774.22 857.76,773.77 865.07,748.13 872.38,765.99 879.69,765.87 887,749.51 894.31,721.38 901.62,715.69 907.71,713.48 915.01,705.68 922.32,729.23 929.63,742.43 936.94,742.43 944.25,740.56 951.56,739.25 957.65,735.68 964.96,728.16 972.27,734.36 979.57,738.84 986.88,740.75 994.19,740.66 1001.5,728.7 1007.59,729.98 1014.9,731.06 1022.21,760.68 1029.52,760.32" fill="none" stroke="#7f5bc4" stroke-width="1.8" stroke-linejoin="round"/>
<rect x="8" y="699" width="236" height="26" fill="#ffffff" fill-opacity="0.7"/>
<text y="716.9" style="font-size:16.5px;fill:#131722;stroke:#131722;stroke-width:0.25px;"><tspan x="12.77" textLength="23.53" lengthAdjust="spacingAndGlyphs">RSI</tspan> <tspan x="40.24" textLength="17.27" lengthAdjust="spacingAndGlyphs">14</tspan> <tspan x="62.86" textLength="38.48" lengthAdjust="spacingAndGlyphs">close</tspan></text>
<circle cx="123.6" cy="710.6" r="11.2" fill="#e8e2f8"/>
<g fill="none" stroke="#5b2ff5" stroke-width="2" stroke-linecap="round"><path d="M117.5 709.5a6.2 6.2 0 0 1 11-2.5"/><path d="M129.5 712.5a6.2 6.2 0 0 1-11 2.5"/></g>
<path d="M129.6 704.2v4.2h-4.2z" fill="#5b2ff5"/><path d="M117.4 717.8v-4.2h4.2z" fill="#5b2ff5"/>
<text transform="translate(145.73 717) scale(1.0109 1)" style="font-size:16.5px;fill:#7e57c2;stroke:#7e57c2;stroke-width:0.25px;">53.97</text>
<text transform="translate(194.75 717) scale(1.0278 1)" style="font-size:16.5px;fill:#f7d24c;stroke:#f7d24c;stroke-width:0.25px;">62.92</text>
<line x1="0" y1="689.1" x2="1335" y2="689.1" stroke="#141414" stroke-width="1.4"/>
<text transform="translate(1252.39 84.3) scale(1.0066 1)" style="font-size:17.4px;fill:#16181f;stroke:#16181f;stroke-width:0.35px;">1.35500</text>
<text transform="translate(1252.39 142.9) scale(1.0066 1)" style="font-size:17.4px;fill:#16181f;stroke:#16181f;stroke-width:0.35px;">1.35000</text>
<text transform="translate(1252.39 201.2) scale(1.0066 1)" style="font-size:17.4px;fill:#16181f;stroke:#16181f;stroke-width:0.35px;">1.34500</text>
<text transform="translate(1252.39 318.5) scale(1.0066 1)" style="font-size:17.4px;fill:#16181f;stroke:#16181f;stroke-width:0.35px;">1.33500</text>
<text transform="translate(1252.39 377.2) scale(1.0066 1)" style="font-size:17.4px;fill:#16181f;stroke:#16181f;stroke-width:0.35px;">1.33000</text>
<text transform="translate(1252.39 425.3) scale(1.0066 1)" style="font-size:17.4px;fill:#16181f;stroke:#16181f;stroke-width:0.35px;">1.32600</text>
<text transform="translate(1252.39 472.2) scale(1.0066 1)" style="font-size:17.4px;fill:#16181f;stroke:#16181f;stroke-width:0.35px;">1.32200</text>
<text transform="translate(1252.39 520) scale(1.0066 1)" style="font-size:17.4px;fill:#16181f;stroke:#16181f;stroke-width:0.35px;">1.31800</text>
<text transform="translate(1252.39 567.9) scale(1.0066 1)" style="font-size:17.4px;fill:#16181f;stroke:#16181f;stroke-width:0.35px;">1.31400</text>
<text transform="translate(1252.39 615.7) scale(1.0066 1)" style="font-size:17.4px;fill:#16181f;stroke:#16181f;stroke-width:0.35px;">1.31000</text>
<text transform="translate(1252.39 663.6) scale(1.0066 1)" style="font-size:17.4px;fill:#16181f;stroke:#16181f;stroke-width:0.35px;">1.30600</text>
<text transform="translate(1168.43 257.3) scale(0.9012 1)" style="font-size:17px;fill:#161618;stroke:#161618;stroke-width:0.3px;">GBPUSD</text>
<text transform="translate(1252.78 257.3) scale(1.0080 1)" style="font-size:17.4px;fill:#101014;stroke:#101014;stroke-width:0.3px;">1.34029</text>
<text transform="translate(1252.47 278) scale(1.0681 1)" style="font-size:17px;fill:#46474c;stroke:#46474c;stroke-width:0.3px;">02:24:42</text>
<text transform="translate(1251.59 705.1) scale(1.0400 1)" style="font-size:17.4px;fill:#000;stroke:#000;stroke-width:0.8px;">80.00</text>
<text transform="translate(1251.49 752.4) scale(1.0421 1)" style="font-size:17.4px;fill:#000;stroke:#000;stroke-width:0.8px;">60.00</text>
<text transform="translate(1251.95 800) scale(1.0314 1)" style="font-size:17.4px;fill:#000;stroke:#000;stroke-width:0.8px;">40.00</text>
<text transform="translate(70.85 867.3) scale(0.9050 1)" style="font-size:18.4px;fill:#16181f;stroke:#16181f;stroke-width:0.35px;">12</text>
<text transform="translate(156.46 867.3) scale(0.9050 1)" style="font-size:18.4px;fill:#16181f;stroke:#16181f;stroke-width:0.35px;">16</text>
<text transform="translate(242.07 867.3) scale(0.9050 1)" style="font-size:18.4px;fill:#16181f;stroke:#16181f;stroke-width:0.35px;">18</text>
<text transform="translate(327.92 867.3) scale(0.9050 1)" style="font-size:18.4px;fill:#16181f;stroke:#16181f;stroke-width:0.35px;">20</text>
<text transform="translate(413.49 867.3) scale(0.9050 1)" style="font-size:18.4px;fill:#16181f;stroke:#16181f;stroke-width:0.35px;">24</text>
<text transform="translate(499.27 867.3) scale(0.9050 1)" style="font-size:18.4px;fill:#16181f;stroke:#16181f;stroke-width:0.35px;">26</text>
<text transform="translate(584.96 867.3) scale(0.9050 1)" style="font-size:18.4px;fill:#16181f;stroke:#16181f;stroke-width:0.35px;">30</text>
<text transform="translate(664.47 867.3) scale(0.9554 1)" style="font-size:18.2px;fill:#16181f;font-weight:bold;">Apr</text>
<text transform="translate(760.92 867.3) scale(0.9050 1)" style="font-size:18.4px;fill:#16181f;stroke:#16181f;stroke-width:0.35px;">3</text>
<text transform="translate(846.53 867.3) scale(0.9050 1)" style="font-size:18.4px;fill:#16181f;stroke:#16181f;stroke-width:0.35px;">7</text>
<text transform="translate(932.18 867.3) scale(0.9050 1)" style="font-size:18.4px;fill:#16181f;stroke:#16181f;stroke-width:0.35px;">9</text>
<text transform="translate(1012.96 867.3) scale(0.9050 1)" style="font-size:18.4px;fill:#16181f;stroke:#16181f;stroke-width:0.35px;">13</text>
<text transform="translate(1098.57 867.3) scale(0.9050 1)" style="font-size:18.4px;fill:#16181f;stroke:#16181f;stroke-width:0.35px;">15</text>
<text transform="translate(1184.3 867.3) scale(0.9050 1)" style="font-size:18.4px;fill:#16181f;stroke:#16181f;stroke-width:0.35px;">17</text>
<text y="29.5" style="font-size:20.3px;fill:#131722;stroke:#131722;stroke-width:0.3px;"><tspan x="41.46" textLength="60.43" lengthAdjust="spacingAndGlyphs">British</tspan> <tspan x="107.83" textLength="56.78" lengthAdjust="spacingAndGlyphs">Pound</tspan> <tspan x="172.3" textLength="6.87" lengthAdjust="spacingAndGlyphs">/</tspan> <tspan x="187.28" textLength="39.44" lengthAdjust="spacingAndGlyphs">U.S.</tspan> <tspan x="232" textLength="55.46" lengthAdjust="spacingAndGlyphs">Dollar</tspan> <tspan x="293.13" style="font-weight:bold;font-size:21.92px">·</tspan> <tspan x="303.29" textLength="22.57" lengthAdjust="spacingAndGlyphs">4h</tspan> <tspan x="330.63" style="font-weight:bold;font-size:21.92px">·</tspan> <tspan x="341.36" textLength="51.14" lengthAdjust="spacingAndGlyphs">FXCM</tspan></text>
<path d="M408.4 14.4H422.7L417.9 22.3L422.7 30.1H408.4Q406.9 30.1 406.9 28.6V15.9Q406.9 14.4 408.4 14.4Z" fill="#2962ff"/>
<path d="M464 10.1H449.5a11.5 11.5 0 0 0 0 23H464Z" fill="#daf0ec"/>
<path d="M464 10.1H478.6a11.5 11.5 0 0 1 0 23H464Z" fill="#fce4ec"/>
<circle cx="452.5" cy="21.8" r="5.4" fill="#06664f"/>
<text x="475.8" y="28.5" text-anchor="middle" style="font-size:21px;fill:#b8184f;font-weight:bold">≈</text>
<text transform="translate(500.44 28.2) scale(0.9452 1)" style="font-size:15.6px;fill:#131722;stroke:#131722;stroke-width:0.2px;">O</text>
<text transform="translate(513.58 28.2) scale(1.0454 1)" style="font-size:15.6px;fill:#70737d;stroke:#70737d;stroke-width:0.1px;">1.34023</text>
<text transform="translate(580.01 28.2) scale(1.0302 1)" style="font-size:15.6px;fill:#131722;stroke:#131722;stroke-width:0.2px;">H</text>
<text transform="translate(594 28.2) scale(1.0216 1)" style="font-size:15.6px;fill:#70737d;stroke:#70737d;stroke-width:0.1px;">1.34093</text>
<text transform="translate(659.45 28.2) scale(1.0804 1)" style="font-size:15.6px;fill:#131722;stroke:#131722;stroke-width:0.2px;">L</text>
<text transform="translate(669.46 28.2) scale(1.0561 1)" style="font-size:15.6px;fill:#70737d;stroke:#70737d;stroke-width:0.1px;">1.33982</text>
<text transform="translate(736.72 28.2) scale(0.8751 1)" style="font-size:15.6px;fill:#131722;stroke:#131722;stroke-width:0.2px;">C</text>
<text transform="translate(748.47 28.2) scale(1.0546 1)" style="font-size:15.6px;fill:#70737d;stroke:#70737d;stroke-width:0.1px;">1.34029</text>
<text transform="translate(816.3 28.2) scale(1.0244 1)" style="font-size:15.6px;fill:#70737d;stroke:#70737d;stroke-width:0.1px;">+0.00006</text>
<text transform="translate(889.88 28.2) scale(0.9878 1)" style="font-size:15.6px;fill:#70737d;stroke:#70737d;stroke-width:0.1px;">(+0.00%)</text>
<rect x="14.1" y="43.4" width="86.2" height="43.4" rx="6.2" fill="#fff" stroke="#f44f5c" stroke-width="1.4"/>
<text transform="translate(28.86 61) scale(1.0289 1)" style="font-size:16.1px;fill:#f23645;stroke:#f23645;stroke-width:0.4px;">1.3403</text>
<text transform="translate(80.06 59.4) scale(0.9104 1)" style="font-size:14.8px;fill:#f23645;stroke:#f23645;stroke-width:0.2px;">0</text>
<text transform="translate(41.62 78.7) scale(0.8384 1)" style="font-size:15.4px;fill:#f23645;stroke:#f23645;stroke-width:0.15px;">SELL</text>
<text transform="translate(111.05 68.7) scale(1.0051 1)" style="font-size:13.8px;fill:#131722;stroke:#131722;stroke-width:0.2px;">0.3</text>
<rect x="140.8" y="43.4" width="86.6" height="43.4" rx="6.2" fill="#fff" stroke="#4a7bff" stroke-width="1.4"/>
<text transform="translate(155.26 61) scale(1.0289 1)" style="font-size:16.1px;fill:#2962ff;stroke:#2962ff;stroke-width:0.4px;">1.3403</text>
<text transform="translate(206.25 59.4) scale(0.9344 1)" style="font-size:14.8px;fill:#2962ff;stroke:#2962ff;stroke-width:0.2px;">3</text>
<text transform="translate(170.14 78.7) scale(0.8636 1)" style="font-size:15.4px;fill:#2962ff;stroke:#2962ff;stroke-width:0.15px;">BUY</text>
<rect x="1245.3" y="6.8" width="84" height="31.5" rx="5.5" fill="#fff" stroke="#eeeef0" stroke-width="1.4"/>
<text transform="translate(1248.89 28.7) scale(0.9383 1)" style="font-size:14.3px;fill:#131722;stroke:#131722;stroke-width:0.3px;">USD</text>
<path d="M1318 21.9l2.8 2.3l2.8-2.3" fill="none" stroke="#111" stroke-width="1.7" stroke-linecap="round" stroke-linejoin="round"/>
<path d="M1278.7 861.5L1283 853.7H1291.9L1296.4 861.5L1291.9 869.3H1283Z" fill="none" stroke="#222" stroke-width="1.4" stroke-linejoin="round"/>
<circle cx="1287.5" cy="861.5" r="2.7" fill="none" stroke="#222" stroke-width="1.5"/>
<circle cx="1029.8" cy="671.4" r="12.9" fill="#fff" stroke="#9c27b0" stroke-width="1.7"/>
<path d="M1034.2 664.2l-9 7.7h4.6l-4.4 6.6l9.4-8.4h-4.7z" fill="#9c27b0"/>
<circle cx="1038.1" cy="662.3" r="3" fill="#f23645"/>
<circle cx="1050.5" cy="671.6" r="13.7" fill="#fff" stroke="#f23645" stroke-width="1.8"/>
<clipPath id="c10505"><circle cx="1050.5" cy="671.6" r="10.6"/></clipPath>
<g clip-path="url(#c10505)">
<rect x="1039.9" y="661" width="21.2" height="21.2" fill="#fff"/>
<rect x="1039.9" y="662.48" width="21.2" height="3.82" fill="#f0434f"/>
<rect x="1039.9" y="670.33" width="21.2" height="3.82" fill="#f0434f"/>
<rect x="1039.9" y="678.17" width="21.2" height="3.82" fill="#f0434f"/>
<rect x="1039.9" y="661" width="11.98" height="13.14" fill="#2e8ee8"/>
<circle cx="1043.93" cy="665.03" r="0.9" fill="#e6f1fc"/>
<circle cx="1047.32" cy="665.03" r="0.9" fill="#e6f1fc"/>
<circle cx="1050.5" cy="665.03" r="0.9" fill="#e6f1fc"/>
<circle cx="1043.93" cy="668.42" r="0.9" fill="#e6f1fc"/>
<circle cx="1047.32" cy="668.42" r="0.9" fill="#e6f1fc"/>
<circle cx="1050.5" cy="668.42" r="0.9" fill="#e6f1fc"/>
<circle cx="1043.93" cy="671.81" r="0.9" fill="#e6f1fc"/>
<circle cx="1047.32" cy="671.81" r="0.9" fill="#e6f1fc"/>
<circle cx="1050.5" cy="671.81" r="0.9" fill="#e6f1fc"/>
</g>
<circle cx="1086.1" cy="671.6" r="13.7" fill="#fff" stroke="#f23645" stroke-width="1.8"/>
<clipPath id="c10861"><circle cx="1086.1" cy="671.6" r="10.6"/></clipPath>
<g clip-path="url(#c10861)">
<rect x="1075.5" y="661" width="21.2" height="21.2" fill="#fff"/>
<rect x="1075.5" y="662.48" width="21.2" height="3.82" fill="#f0434f"/>
<rect x="1075.5" y="670.33" width="21.2" height="3.82" fill="#f0434f"/>
<rect x="1075.5" y="678.17" width="21.2" height="3.82" fill="#f0434f"/>
<rect x="1075.5" y="661" width="11.98" height="13.14" fill="#2e8ee8"/>
<circle cx="1079.53" cy="665.03" r="0.9" fill="#e6f1fc"/>
<circle cx="1082.92" cy="665.03" r="0.9" fill="#e6f1fc"/>
<circle cx="1086.1" cy="665.03" r="0.9" fill="#e6f1fc"/>
<circle cx="1079.53" cy="668.42" r="0.9" fill="#e6f1fc"/>
<circle cx="1082.92" cy="668.42" r="0.9" fill="#e6f1fc"/>
<circle cx="1086.1" cy="668.42" r="0.9" fill="#e6f1fc"/>
<circle cx="1079.53" cy="671.81" r="0.9" fill="#e6f1fc"/>
<circle cx="1082.92" cy="671.81" r="0.9" fill="#e6f1fc"/>
<circle cx="1086.1" cy="671.81" r="0.9" fill="#e6f1fc"/>
</g>
<circle cx="1164.4" cy="671.6" r="13.7" fill="#fff" stroke="#f23645" stroke-width="1.8"/>
<clipPath id="k11644"><circle cx="1164.4" cy="671.6" r="10.6"/></clipPath>
<g clip-path="url(#k11644)">
<rect x="1153.8" y="661" width="21.2" height="21.2" fill="#1443a8"/>
<g stroke="#fff" stroke-width="3.18"><line x1="1153.8" y1="661" x2="1175" y2="682.2"/><line x1="1153.8" y1="682.2" x2="1175" y2="661"/></g>
<g stroke="#f4545c" stroke-width="1.06"><line x1="1153.8" y1="661" x2="1175" y2="682.2"/><line x1="1153.8" y1="682.2" x2="1175" y2="661"/></g>
<g stroke="#fff" stroke-width="4.24"><line x1="1153.8" y1="671.6" x2="1175" y2="671.6"/><line x1="1164.4" y1="661" x2="1164.4" y2="682.2"/></g>
<g stroke="#f4545c" stroke-width="1.91"><line x1="1153.8" y1="671.6" x2="1175" y2="671.6"/><line x1="1164.4" y1="661" x2="1164.4" y2="682.2"/></g>
</g>
<clipPath id="c298"><circle cx="29.8" cy="17.6" r="7.4"/></clipPath>
<g clip-path="url(#c298)">
<rect x="22.4" y="10.2" width="14.8" height="14.8" fill="#fff"/>
<rect x="22.4" y="11.24" width="14.8" height="2.66" fill="#f0434f"/>
<rect x="22.4" y="16.71" width="14.8" height="2.66" fill="#f0434f"/>
<rect x="22.4" y="22.19" width="14.8" height="2.66" fill="#f0434f"/>
<rect x="22.4" y="10.2" width="8.36" height="9.18" fill="#2e8ee8"/>
</g>
<circle cx="21.8" cy="26" r="8.7" fill="#fff"/>
<clipPath id="k218"><circle cx="21.8" cy="26" r="7.5"/></clipPath>
<g clip-path="url(#k218)">
<rect x="14.3" y="18.5" width="15" height="15" fill="#1443a8"/>
<g stroke="#fff" stroke-width="2.4"><line x1="14.3" y1="18.5" x2="29.3" y2="33.5"/><line x1="14.3" y1="33.5" x2="29.3" y2="18.5"/></g>
<g stroke="#f4545c" stroke-width="0.98"><line x1="14.3" y1="18.5" x2="29.3" y2="33.5"/><line x1="14.3" y1="33.5" x2="29.3" y2="18.5"/></g>
<g stroke="#fff" stroke-width="4.65"><line x1="14.3" y1="26" x2="29.3" y2="26"/><line x1="21.8" y1="18.5" x2="21.8" y2="33.5"/></g>
<g stroke="#f4545c" stroke-width="2.48"><line x1="14.3" y1="26" x2="29.3" y2="26"/><line x1="21.8" y1="18.5" x2="21.8" y2="33.5"/></g>
</g>
<g stroke="#fff" stroke-width="5" stroke-linejoin="round" fill="#131313" paint-order="stroke">
<path d="M17.8 802.8H33.1V822.3H25.5V810.3H17.8Z"/>
<circle cx="39.7" cy="806.5" r="3.8"/>
<path d="M48.3 802.8H56.3L48.9 822.3H40.2Z"/>
<text x="65.5" y="822.3" style="font-size:26.8px;font-weight:bold;fill:#131313" textLength="157" lengthAdjust="spacingAndGlyphs">TradingView</text>
</g>
</svg>
</body></html>
